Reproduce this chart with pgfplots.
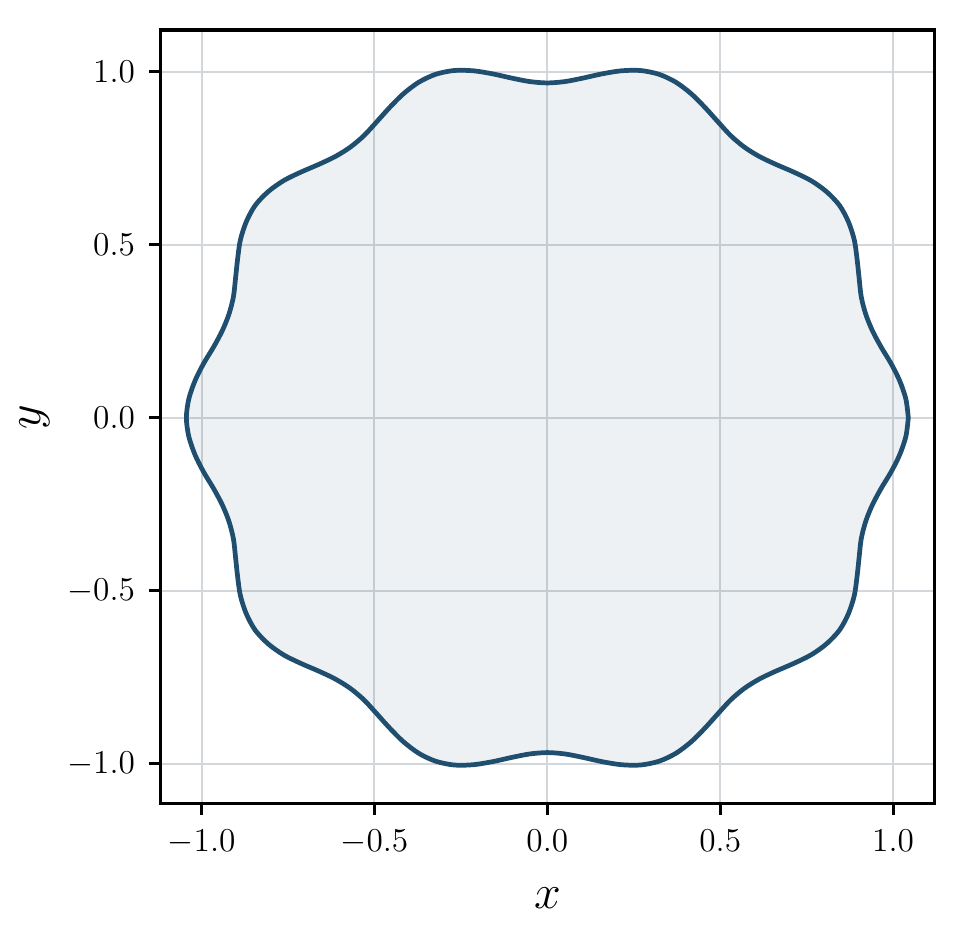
\documentclass[border=0pt]{standalone}
\usepackage{pgfplots}
\pgfplotsset{compat=1.18}

\definecolor{curve}{HTML}{1F4E6F}
\definecolor{gridgray}{HTML}{D3D6DA}

\begin{document}
\begin{tikzpicture}
  \begin{axis}[
      scale only axis,
      width=278.8pt, height=278.4pt,
      xmin=-1.12, xmax=1.121,
      ymin=-1.116, ymax=1.121,
      xtick={-1,-0.5,0,0.5,1},
      ytick={-1,-0.5,0,0.5,1},
      tick pos=left, tick align=outside,
      major tick length=4pt,
      every tick/.style={black, line width=1.1pt},
      axis line style={line width=1.1pt},
      grid=major,
      major grid style={draw=gridgray, line width=0.7pt},
      ticklabel style={font=\fontsize{12}{14}\selectfont},
      xticklabel style={yshift=-1.8pt, /pgf/number format/.cd, fixed, fixed zerofill, precision=1},
      yticklabel style={xshift=-1.5pt, /pgf/number format/.cd, fixed, fixed zerofill, precision=1},
      label style={font=\fontsize{16.5}{19}\selectfont},
      xlabel={$x$}, ylabel={$y$},
      xlabel style={at={(axis description cs:0.5,0)}, anchor=center, yshift=-33.8pt},
      ylabel style={at={(axis description cs:0,0.5)}, anchor=center, yshift=45pt},
    ]
    % wavy closed curve, 3 degree steps
    \addplot [draw=curve, line width=1.7pt, fill=curve, fill opacity=0.08,
              smooth, tension=0.5] coordinates {
      (1.044,0) (1.037,0.054) (1.019,0.107) (0.994,0.157) (0.965,0.205)
      (0.940,0.252) (0.921,0.299) (0.908,0.349) (0.902,0.401) (0.896,0.457)
      (0.888,0.513) (0.871,0.566) (0.845,0.614) (0.807,0.654) (0.762,0.686)
      (0.711,0.711) (0.660,0.733) (0.612,0.756) (0.569,0.783) (0.530,0.816)
      (0.494,0.855) (0.457,0.896) (0.417,0.936) (0.372,0.970) (0.323,0.993)
      (0.269,1.004) (0.213,1.003) (0.157,0.994) (0.103,0.982) (0.051,0.972)
      (0,0.968)
      (-0.051,0.972) (-0.103,0.982) (-0.157,0.994) (-0.213,1.003) (-0.269,1.004)
      (-0.323,0.993) (-0.372,0.970) (-0.417,0.936) (-0.457,0.896) (-0.494,0.855)
      (-0.530,0.816) (-0.569,0.783) (-0.612,0.756) (-0.660,0.733) (-0.711,0.711)
      (-0.762,0.686) (-0.807,0.654) (-0.845,0.614) (-0.871,0.566) (-0.888,0.513)
      (-0.896,0.457) (-0.902,0.401) (-0.908,0.349) (-0.921,0.299) (-0.940,0.252)
      (-0.965,0.205) (-0.994,0.157) (-1.019,0.107) (-1.037,0.054) (-1.044,0)
      (-1.037,-0.054) (-1.019,-0.107) (-0.994,-0.157) (-0.965,-0.205) (-0.940,-0.252)
      (-0.921,-0.299) (-0.908,-0.349) (-0.902,-0.401) (-0.896,-0.457) (-0.888,-0.513)
      (-0.871,-0.566) (-0.845,-0.614) (-0.807,-0.654) (-0.762,-0.686) (-0.711,-0.711)
      (-0.660,-0.733) (-0.612,-0.756) (-0.569,-0.783) (-0.530,-0.816) (-0.494,-0.855)
      (-0.457,-0.896) (-0.417,-0.936) (-0.372,-0.970) (-0.323,-0.993) (-0.269,-1.004)
      (-0.213,-1.003) (-0.157,-0.994) (-0.103,-0.982) (-0.051,-0.972) (0,-0.968)
      (0.051,-0.972) (0.103,-0.982) (0.157,-0.994) (0.213,-1.003) (0.269,-1.004)
      (0.323,-0.993) (0.372,-0.970) (0.417,-0.936) (0.457,-0.896) (0.494,-0.855)
      (0.530,-0.816) (0.569,-0.783) (0.612,-0.756) (0.660,-0.733) (0.711,-0.711)
      (0.762,-0.686) (0.807,-0.654) (0.845,-0.614) (0.871,-0.566) (0.888,-0.513)
      (0.896,-0.457) (0.902,-0.401) (0.908,-0.349) (0.921,-0.299) (0.940,-0.252)
      (0.965,-0.205) (0.994,-0.157) (1.019,-0.107) (1.037,-0.054) (1.044,0)
    } -- cycle;
  \end{axis}
  \pgfresetboundingbox
  \path (-57.6pt,-43.9pt) rectangle (287.1pt,289.2pt);
\end{tikzpicture}
\end{document}
